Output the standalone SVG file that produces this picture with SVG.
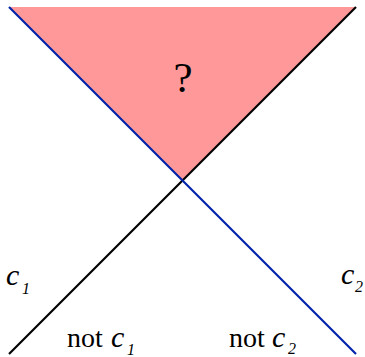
<svg xmlns="http://www.w3.org/2000/svg" width="365" height="357" viewBox="0 0 365 357">
<style>
.ln{stroke-width:2.2;fill:none}
</style>
<rect width="365" height="357" fill="#fff"/>
<g id="region">
<polygon points="9,7 356,7 182.5,180.5" fill="#ff9999"/>
<text x="183" y="92" font-family="Liberation Serif, Times New Roman, serif" font-size="43" text-anchor="middle" fill="#000">?</text>
</g>
<g id="connectors">
<line class="ln" x1="9" y1="354" x2="356" y2="7" stroke="#000"/>
<line class="ln" x1="9" y1="7" x2="356" y2="354" stroke="#0022aa"/>
</g>
<g id="labels" font-family="Liberation Serif, Times New Roman, serif" fill="#000">
<g id="c1">
<text x="6" y="285" font-size="30" font-style="italic">c</text>
<text x="22" y="294" font-size="16" font-style="italic">1</text>
</g>
<g id="c2">
<text x="341" y="284" font-size="30" font-style="italic">c</text>
<text x="355" y="292" font-size="16" font-style="italic">2</text>
</g>
<g id="notc1">
<text x="67" y="347" font-size="28">not</text>
<text x="111" y="347" font-size="30" font-style="italic">c</text>
<text x="127" y="355" font-size="16" font-style="italic">1</text>
</g>
<g id="notc2">
<text x="229" y="347" font-size="28">not</text>
<text x="272" y="347" font-size="30" font-style="italic">c</text>
<text x="288" y="354" font-size="16" font-style="italic">2</text>
</g>
</g>
</svg>
